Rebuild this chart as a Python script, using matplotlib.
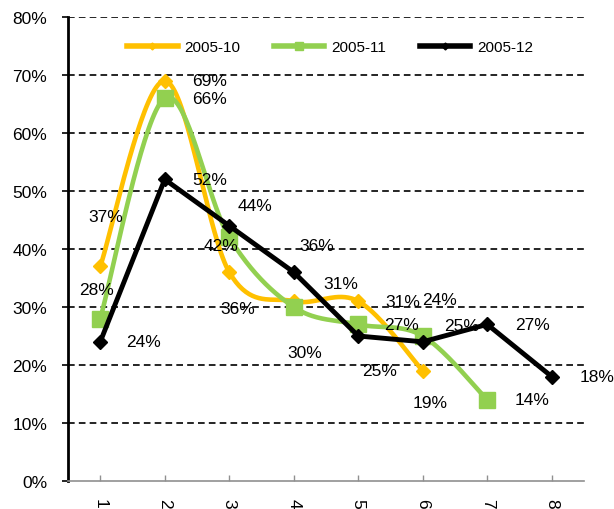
import numpy as np
import matplotlib
matplotlib.use('Agg')
import matplotlib.pyplot as plt
from matplotlib.lines import Line2D

# ---- data ----
categories = [1, 2, 3, 4, 5, 6, 7, 8]
series_names = ['2005-10', '2005-11', '2005-12']
s_oct = [37, 69, 36, 31, 31, 19]
s_nov = [28, 66, 42, 30, 27, 25, 14]
s_dec = [24, 52, 44, 36, 25, 24, 27, 18]
y_ticks = [0, 10, 20, 30, 40, 50, 60, 70, 80]

# ---- label offsets (pixels) ----
off_oct = [(5, 50), (45, 0), (8, -36), (47, 18), (45, 0), (7, -32)]
off_nov = [(-4, 29), (45, 0), (-8, -8), (11, -46), (43, 0), (39, 10), (45, 0)]
off_dec = [(43, 0), (45, 0), (26, 20), (23, 27), (21, -35), (17, 42), (45, 0), (45, 0)]

plt.rcParams['font.family'] = ['Liberation Sans', 'DejaVu Sans']

C_OCT = '#FFC000'
C_NOV = '#92D050'
C_DEC = '#000000'


def smooth(xs, ys, n=40):
    x = np.asarray(xs, float)
    y = np.asarray(ys, float)
    P = np.column_stack([x, y])
    P = np.vstack([P[0], P, P[-1]])
    out = []
    for i in range(1, len(P) - 2):
        p0, p1, p2, p3 = P[i - 1], P[i], P[i + 1], P[i + 2]
        c1 = p1 + (p2 - p0) / 6.0
        c2 = p2 - (p3 - p1) / 6.0
        t = np.linspace(0, 1, n)[:, None]
        b = ((1 - t) ** 3) * p1 + 3 * ((1 - t) ** 2) * t * c1 + 3 * (1 - t) * t ** 2 * c2 + t ** 3 * p2
        out.append(b if i == 1 else b[1:])
    B = np.vstack(out)
    return B[:, 0], B[:, 1]


fig = plt.figure(figsize=(6.14, 5.10), dpi=100)
ax = fig.add_axes([68 / 614, 1 - 482 / 510, (584 - 68) / 614, (482 - 18) / 510])

x_oct = categories[:len(s_oct)]
x_nov = categories[:len(s_nov)]
x_dec = categories[:len(s_dec)]

sx, sy = smooth(x_oct, s_oct)
ax.plot(sx, sy, color=C_OCT, lw=3.3, zorder=3, solid_capstyle='round')
ax.plot(x_oct, s_oct, ls='none', marker='D', ms=7, color=C_OCT, zorder=3.1)

sx, sy = smooth(x_nov, s_nov)
ax.plot(sx, sy, color=C_NOV, lw=3.3, zorder=4, solid_capstyle='round')
ax.plot(x_nov, s_nov, ls='none', marker='s', ms=11, color=C_NOV, zorder=4.1)

ax.plot(x_dec, s_dec, color=C_DEC, lw=3.5, marker='D', ms=7.5, zorder=5)

for xs, ys, offs in [(x_oct, s_oct, off_oct), (x_nov, s_nov, off_nov), (x_dec, s_dec, off_dec)]:
    for xv, yv, (dx, dy) in zip(xs, ys, offs):
        ax.annotate(f'{yv}%', (xv, yv), xytext=(dx, dy), textcoords='offset pixels',
                    ha='center', va='center', fontsize=12.5, color='#000000', zorder=6)

ax.set_xlim(0.5, 8.5)
ax.set_ylim(0, 80)
ax.set_yticks(y_ticks)
ax.set_yticklabels([f'{v}%' for v in y_ticks])
ax.set_xticks(categories)
ax.set_xticklabels([str(c) for c in categories], rotation=270)

for v in y_ticks[1:]:
    ax.axhline(v, color='black', lw=1.2, ls=(0, (4, 2.5)), zorder=1)

for s in ['top', 'right']:
    ax.spines[s].set_visible(False)
ax.spines['left'].set_color('black')
ax.spines['left'].set_linewidth(2)
ax.spines['bottom'].set_color('#909090')
ax.spines['bottom'].set_linewidth(1.2)

ax.tick_params(axis='y', direction='out', length=4, width=1.2, color='black', labelsize=12.5, pad=11)
ax.tick_params(axis='x', direction='in', length=4, width=1, color='#909090', labelsize=12.5, pad=12)

handles = [
    Line2D([], [], color=C_OCT, lw=4, marker='D', ms=3.5),
    Line2D([], [], color=C_NOV, lw=4, marker='s', ms=6),
    Line2D([], [], color=C_DEC, lw=4, marker='D', ms=3.5),
]
ax.legend(handles, series_names, loc='center', bbox_to_anchor=(0.508, 0.935), ncol=3,
          frameon=False, fontsize=11, handlelength=3.3, handletextpad=0.45,
          columnspacing=2.2)

fig.savefig('out.png', dpi=100)
